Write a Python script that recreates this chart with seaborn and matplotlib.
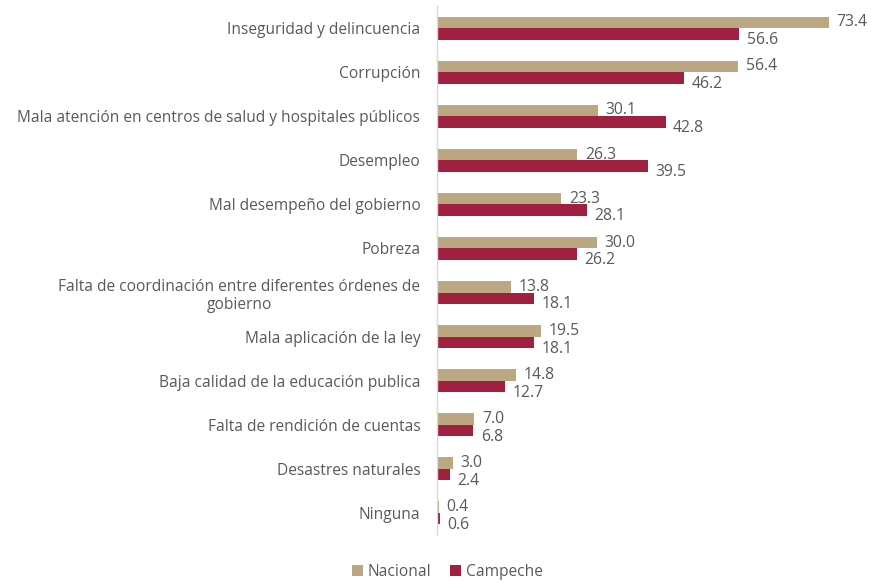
import pandas as pd
import seaborn as sns
import matplotlib.pyplot as plt

categorias = [
    "Inseguridad y delincuencia",
    "Corrupción",
    "Mala atención en centros de salud y hospitales públicos",
    "Desempleo",
    "Mal desempeño del gobierno",
    "Pobreza",
    "Falta de coordinación entre diferentes órdenes de\ngobierno",
    "Mala aplicación de la ley",
    "Baja calidad de la educación publica",
    "Falta de rendición de cuentas",
    "Desastres naturales",
    "Ninguna",
]
nacional = [73.4, 56.4, 30.1, 26.3, 23.3, 30.0, 13.8, 19.5, 14.8, 7.0, 3.0, 0.4]
campeche = [56.6, 46.2, 42.8, 39.5, 28.1, 26.2, 18.1, 18.1, 12.7, 6.8, 2.4, 0.6]

colores = {"Nacional": "#BBA882", "Campeche": "#A0213F"}
gris = "#595959"

df = pd.DataFrame({
    "categoria": categorias * 2,
    "valor": nacional + campeche,
    "serie": ["Nacional"] * len(categorias) + ["Campeche"] * len(categorias),
})

sns.set_style("white")
plt.rcParams["font.family"] = ["Open Sans", "DejaVu Sans"]

fig = plt.figure(figsize=(8.75, 5.83), dpi=100)
ax = fig.add_axes([437 / 875, 1 - 535 / 583, 1 - 437 / 875, 529 / 583])

sns.barplot(data=df, y="categoria", x="valor", hue="serie", palette=colores,
            orient="h", width=0.52, linewidth=0, saturation=1, ax=ax)

# etiquetas de datos
for cont, dy in zip(ax.containers, [0.0, 0.14]):
    for bar, v in zip(cont, cont.datavalues):
        y = bar.get_y() + bar.get_height() / 2 + dy
        ax.text(bar.get_width() + 1.4, y, f"{v:.1f}", va="center", ha="left",
                fontsize=11.3, color=gris)

ax.set_xlim(0, 82)
ax.set_ylim(len(categorias) - 0.5, -0.5)
ax.set_xlabel("")
ax.set_ylabel("")
ax.set_xticks([])
for s in ["top", "right", "bottom"]:
    ax.spines[s].set_visible(False)
ax.spines["left"].set_color("#D9D9D9")
ax.spines["left"].set_linewidth(1)
ax.tick_params(axis="y", length=0, pad=12, labelsize=11.2, labelcolor=gris)
for t in ax.get_yticklabels():
    t.set_multialignment("center")

ax.legend(loc="lower center", bbox_to_anchor=(0.024, -0.112), ncol=2, frameon=False,
          handlelength=0.7, handleheight=0.7, handletextpad=0.3, columnspacing=1.2,
          fontsize=11.2, labelcolor=gris)

plt.savefig("out.png", dpi=100)
